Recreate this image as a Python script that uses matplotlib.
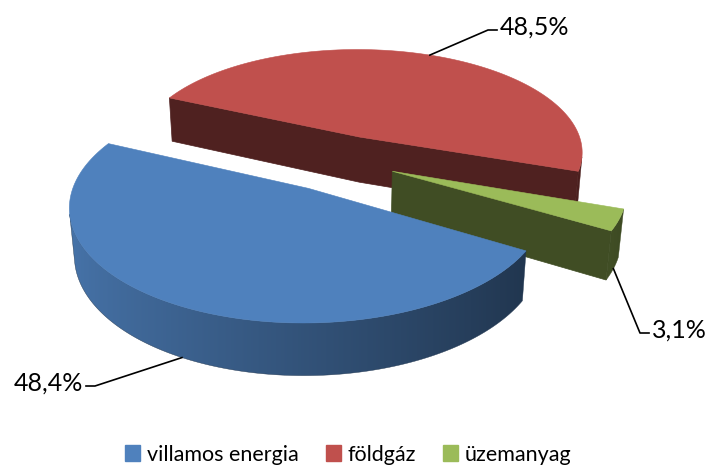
import numpy as np
import matplotlib.pyplot as plt
from matplotlib.colors import to_rgb
from matplotlib.patches import Polygon, Patch

categories = ["villamos energia", "földgáz", "üzemanyag"]
shares = [48.4, 48.5, 3.1]
value_labels = ["48,4%", "48,5%", "3,1%"]
top_colors = ["#4F81BD", "#C0504D", "#9BBB59"]

# view / geometry settings (pixel space of the 708x468 canvas)
CX, CY = 340, 160
SCALE = 227
ELEV = np.radians(27.9)
FOCAL = 6.15
HEIGHT = 0.234
EXPLODE = [0.29, 0.24, 0.25]
START = -30.3   # first slice starts here and runs clockwise


def project(x, y, z):
    x, y, z = np.atleast_1d(x, y, z)
    yv = y * np.sin(ELEV) + z * np.cos(ELEV)
    d = y * np.cos(ELEV) - z * np.sin(ELEV)
    s = FOCAL / (FOCAL + d)
    return np.column_stack([CX + SCALE * x * s, CY - SCALE * yv * s])


def shade(color, f):
    return tuple(np.clip(np.array(to_rgb(color)) * f, 0, 1))


cam = np.array([0.0, -FOCAL * np.cos(ELEV), FOCAL * np.sin(ELEV)])

fig = plt.figure(figsize=(7.08, 4.68), dpi=100)
ax = fig.add_axes([0, 0, 1, 1])

spans = np.array(shares) / sum(shares) * 360
slices = []
a = START
for i, sp in enumerate(spans):
    hi, lo = a, a - sp
    a = lo
    mid = np.radians((hi + lo) / 2)
    ox, oy = EXPLODE[i] * np.cos(mid), EXPLODE[i] * np.sin(mid)
    t = np.radians(np.linspace(lo, hi, max(int(sp * 2), 6)))
    slices.append(dict(i=i, t=t, ox=ox, oy=oy, mid=mid))


def draw_slice(sl):
    c = top_colors[sl["i"]]
    t, ox, oy = sl["t"], sl["ox"], sl["oy"]
    xs, ys = ox + np.cos(t), oy + np.sin(t)
    top = project(xs, ys, np.zeros_like(t))
    bot = project(xs, ys, np.full_like(t, -HEIGHT))
    ctop = project(ox, oy, 0.0)[0]
    cbot = project(ox, oy, -HEIGHT)[0]

    # cut faces (merged into one outline when both face the camera)
    seen = []
    for k, sign in ((0, 1), (-1, -1)):
        tt = t[k]
        n = np.array([sign * np.sin(tt), -sign * np.cos(tt), 0])
        if n @ (cam - np.array([ox, oy, 0])) > 0:
            seen.append(k)
    col = shade(c, 0.41)
    if len(seen) == 2:
        pts = [top[-1], ctop, top[0], bot[0], cbot, bot[-1]]
        ax.add_patch(Polygon(pts, closed=True, fc=col, ec=col, lw=0.5))
    elif seen:
        k = seen[0]
        pts = [ctop, top[k], bot[k], cbot]
        ax.add_patch(Polygon(pts, closed=True, fc=col, ec=col, lw=0.5))

    # outer wall, shaded with a gradient clipped to its outline
    vis = np.array([np.cos(tt) * (cam[0] - xs[j]) + np.sin(tt) * (cam[1] - ys[j]) > 0
                    for j, tt in enumerate(t)])
    if vis.sum() >= 2:
        idx = np.where(vis)[0]
        outline = np.vstack([top[idx], bot[idx][::-1]])
        clip = Polygon(outline, closed=True, fc="none", ec="none")
        ax.add_patch(clip)
        px = bot[idx, 0]
        fac = 0.64 - 0.25 * np.cos(t[idx])
        srt = np.argsort(px)
        x0, x1 = outline[:, 0].min(), outline[:, 0].max()
        y0, y1 = outline[:, 1].min(), outline[:, 1].max()
        cols = np.linspace(x0, x1, 200)
        f = np.interp(cols, px[srt], fac[srt])
        img = np.array(to_rgb(c))[None, None, :] * f[None, :, None]
        img = np.repeat(np.clip(img, 0, 1), 2, axis=0)
        im = ax.imshow(img, extent=[x0, x1, y1, y0], aspect="auto",
                       interpolation="bilinear", zorder=1)
        im.set_clip_path(clip)
        ax.add_patch(Polygon(outline, closed=True, fc="none",
                             ec=shade(c, fac.min()), lw=0.3, zorder=1))

    pts = np.vstack([ctop, top])
    ax.add_patch(Polygon(pts, closed=True, fc=c, ec=c, lw=0.4, zorder=1))


# far slices first
order = sorted(slices, key=lambda s: -(s["oy"] + 0.4 * np.sin(s["mid"])))
for sl in order:
    draw_slice(sl)

# data labels with leader lines
label_pos = {0: (83, 383, "right"), 1: (500, 27, "left"), 2: (652, 330, "left")}
for sl in slices:
    i = sl["i"]
    m = sl["mid"]
    z = 0.0 if i == 1 else -HEIGHT
    ax0, ay0 = project(sl["ox"] + np.cos(m), sl["oy"] + np.sin(m), z)[0]
    tx, ty, ha = label_pos[i]
    elbow = tx + 12 if ha == "right" else tx - 12
    ax.plot([ax0, elbow, tx + (3 if ha == "right" else -3)],
            [ay0, ty + 3, ty + 3], color="black", lw=1.2, zorder=3)
    ax.text(tx, ty, value_labels[i], ha=ha, va="center",
            fontsize=18, family="Lato", color="black", zorder=3)

ax.set_xlim(0, 708)
ax.set_ylim(468, 0)
ax.axis("off")

handles = [Patch(fc=c, ec=c) for c in top_colors]
fig.legend(handles, categories, loc="lower center", bbox_to_anchor=(0.492, -0.034),
           ncol=3, frameon=False, prop={"family": "Lato", "size": 15.5},
           handlelength=0.7, handleheight=0.7, handletextpad=0.3,
           columnspacing=1.27)

fig.savefig("out.png", dpi=100)
